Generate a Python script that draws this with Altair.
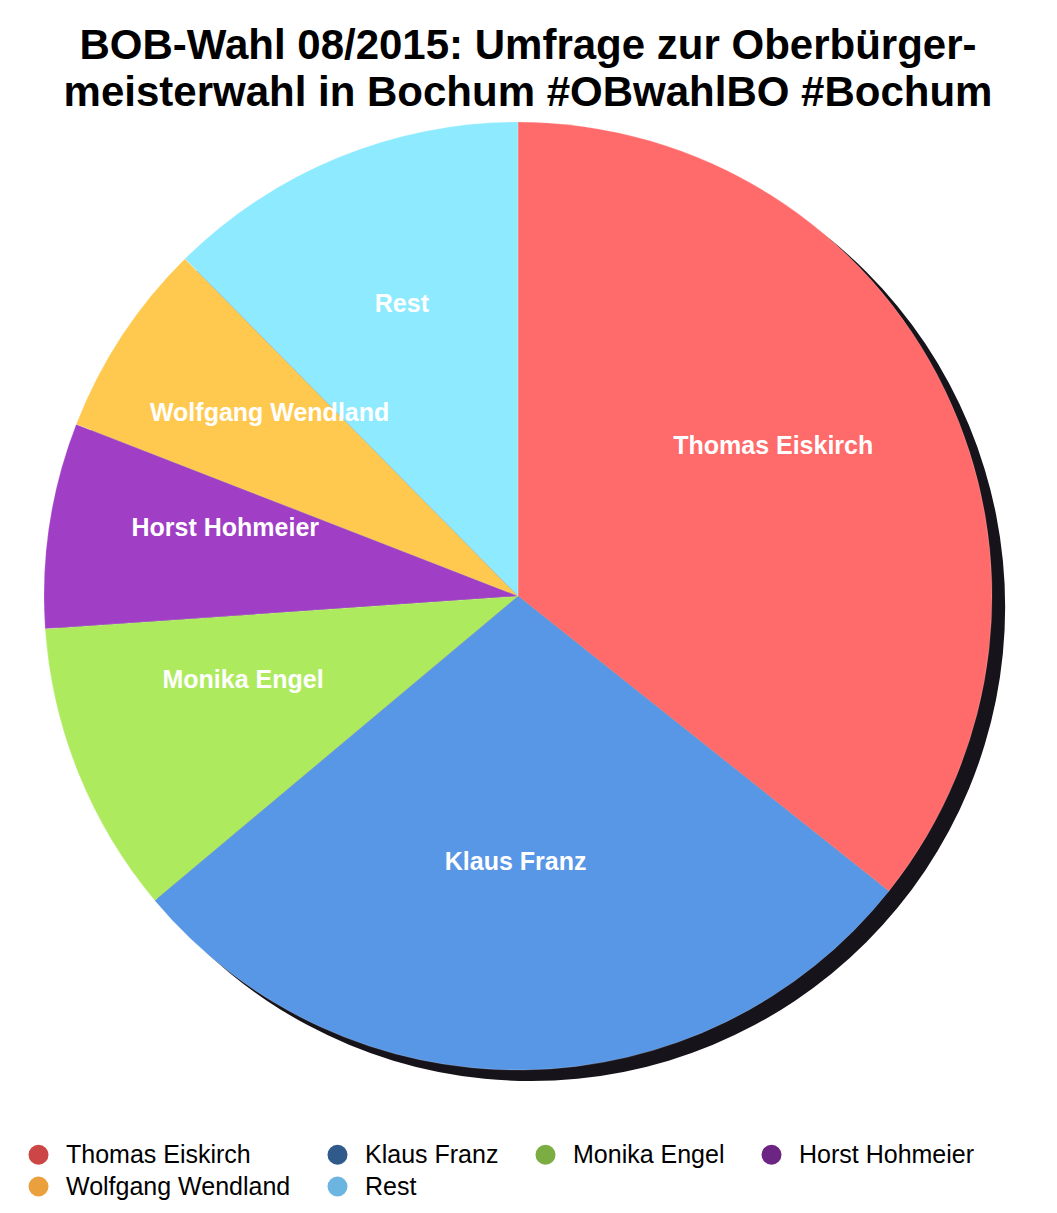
import altair as alt
import pandas as pd

# ---- data ----
CANDIDATES = ["Thomas Eiskirch", "Klaus Franz", "Monika Engel",
              "Horst Hohmeier", "Wolfgang Wendland", "Rest"]
SHARES = [35.7, 28.2, 10.0, 7.0, 6.7, 12.4]
SLICE_COLORS = ["#FF6A6A", "#5896E6", "#AEEA5E", "#A03EC6", "#FFC950", "#8EEBFF"]
LEGEND_COLORS = ["#CC4646", "#2F5A8A", "#7BAD42", "#6C2582", "#EBA03E", "#6CB5E0"]
TITLE_LINES = ["BOB-Wahl 08/2015: Umfrage zur Oberbürger-",
               "meisterwahl in Bochum #OBwahlBO #Bochum"]

df = pd.DataFrame({"name": CANDIDATES, "share": SHARES, "order": list(range(len(CANDIDATES)))})

FONT = "Liberation Sans"
CX, CY, R = 510, 588, 474        # pie centre and radius in plot coordinates
LX, LY, LABEL_R = 504, 564, 290  # label anchor and radius

base = alt.Chart(df).encode(
    theta=alt.Theta("share:Q", stack=True),
    order=alt.Order("order:Q"),
)

shadow = alt.Chart(pd.DataFrame({"v": [1]})).mark_arc(
    theta=0, theta2=6.2832, outerRadius=R, color="#17131a"
).encode(x=alt.value(CX + 13), y=alt.value(CY + 11))

slices = base.mark_arc(outerRadius=R, stroke="#ffffff", strokeWidth=0.2).encode(
    color=alt.Color("name:N", scale=alt.Scale(domain=CANDIDATES, range=SLICE_COLORS), legend=None),
    x=alt.value(CX), y=alt.value(CY),
)

labels = base.mark_text(
    radius=LABEL_R, font=FONT, fontSize=25, fontWeight="bold", color="#ffffff",
).encode(text="name:N", x=alt.value(LX), y=alt.value(LY))

legend_layer = alt.Chart(df).mark_point(filled=True, opacity=0).encode(
    color=alt.Color(
        "name:N",
        scale=alt.Scale(domain=CANDIDATES, range=LEGEND_COLORS),
        legend=alt.Legend(
            title=None, orient="none", legendX=18, legendY=1134,
            direction="horizontal", columns=4, symbolType="circle",
            symbolSize=400, symbolOpacity=1, symbolStrokeWidth=0,
            labelFont=FONT, labelFontSize=25, labelColor="#000000",
            labelOffset=15, columnPadding=34, rowPadding=6, padding=0,
            labelLimit=400,
        ),
    ),
    x=alt.value(0), y=alt.value(0),
)

title = alt.Chart(pd.DataFrame({"t": [0]})).mark_text(
    text=TITLE_LINES, font=FONT, fontSize=42, fontWeight="bold", color="#000000",
    align="center", baseline="middle", lineHeight=47,
).encode(x=alt.value(520), y=alt.value(38))

chart = alt.layer(shadow, slices, labels, legend_layer, title).resolve_scale(
    color="independent"
).properties(
    width=1041, height=1197, autosize="none", padding=0
).configure_view(stroke=None)

chart.save("out.html", embed_options={"renderer": "svg", "actions": False})
